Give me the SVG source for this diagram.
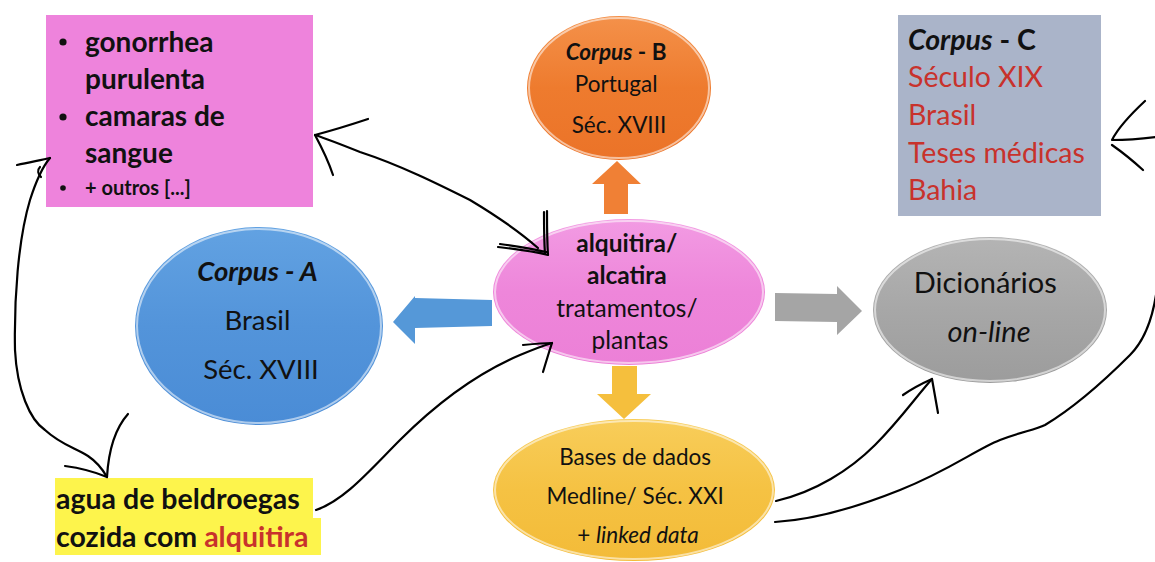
<svg xmlns="http://www.w3.org/2000/svg" width="1155" height="562" viewBox="0 0 1155 562">
  <defs>
    <linearGradient id="gOrange" x1="0" y1="0" x2="0" y2="1">
      <stop offset="0" stop-color="#f4914a"/>
      <stop offset="0.5" stop-color="#ee7b2e"/>
      <stop offset="1" stop-color="#eb7328"/>
    </linearGradient>
    <linearGradient id="gBlue" x1="0" y1="0" x2="0" y2="1">
      <stop offset="0" stop-color="#62a2e2"/>
      <stop offset="0.5" stop-color="#5394da"/>
      <stop offset="1" stop-color="#4a8cd6"/>
    </linearGradient>
    <linearGradient id="gPink" x1="0" y1="0" x2="0" y2="1">
      <stop offset="0" stop-color="#f29be3"/>
      <stop offset="0.5" stop-color="#ee86da"/>
      <stop offset="1" stop-color="#ec80d7"/>
    </linearGradient>
    <linearGradient id="gGray" x1="0" y1="0" x2="0" y2="1">
      <stop offset="0" stop-color="#b4b4b4"/>
      <stop offset="0.5" stop-color="#a7a7a7"/>
      <stop offset="1" stop-color="#9c9c9c"/>
    </linearGradient>
    <linearGradient id="gYellow" x1="0" y1="0" x2="0" y2="1">
      <stop offset="0" stop-color="#f8cd5a"/>
      <stop offset="0.5" stop-color="#f5c243"/>
      <stop offset="1" stop-color="#f3bb38"/>
    </linearGradient>
    <style>
      .t { font-family: Lato, "Liberation Sans", sans-serif; fill: #111; }
      .b { font-weight: bold; }
      .i { font-style: italic; }
      .red { fill: #c8322c; }
      .rim { fill: none; stroke: #ffffff; stroke-opacity: 0.55; stroke-width: 2; }
      .ink { fill: none; stroke: #000; stroke-width: 2.2; stroke-linecap: round; stroke-linejoin: round; }
    </style>
  </defs>

  <rect width="1155" height="562" fill="#ffffff"/>

  <!-- block arrows from the central node -->
  <g id="block-arrows">
    <polygon points="604,214 628,214 628,184 641,184 617,161 592,184 604,184" fill="#f08035"/>
    <polygon points="492,300 415,298 415,296 393,322 415,344 415,328 492,326" fill="#5598d8"/>
    <polygon points="775,293 837,294 837,286 862,311 837,335 837,322 775,321" fill="#a5a5a5"/>
    <polygon points="612,366 637,366 637,394 651,394 624,419 597,394 612,394" fill="#f5bf3d"/>
  </g>

  <!-- symptom list -->
  <g id="node-symptoms">
    <rect x="46" y="15" width="267" height="192" fill="#ee83dc"/>
    <g fill="#111">
      <circle cx="63" cy="42" r="3.6"/>
      <circle cx="63" cy="117" r="3.6"/>
      <circle cx="63" cy="188" r="2.8"/>
    </g>
    <text class="t b" font-size="28">
      <tspan x="85" y="52">gonorrhea</tspan>
      <tspan x="85" y="89">purulenta</tspan>
      <tspan x="85" y="126">camaras de</tspan>
      <tspan x="85" y="163">sangue</tspan>
    </text>
    <text class="t b" font-size="20" x="85" y="195">+ outros [...]</text>
  </g>

  <!-- Corpus B -->
  <g id="node-corpus-b">
    <ellipse cx="619" cy="88" rx="92" ry="72" fill="url(#gOrange)"/>
    <ellipse cx="619" cy="88" rx="90" ry="70" class="rim"/>
    <text class="t" font-size="22.5" text-anchor="middle">
      <tspan x="619" y="60"><tspan class="b i">Corpus</tspan><tspan class="b"> - B</tspan></tspan>
      <tspan x="619" y="92">Portugal</tspan>
      <tspan x="619" y="133">Séc. XVIII</tspan>
    </text>
  </g>

  <!-- Corpus C -->
  <g id="node-corpus-c">
    <rect x="898" y="15" width="203" height="201" fill="#aab4c9"/>
    <text class="t" font-size="28.5">
      <tspan x="908" y="50"><tspan class="b i">Corpus</tspan><tspan class="b"> - C</tspan></tspan>
      <tspan class="red" x="908" y="87">Século XIX</tspan>
      <tspan class="red" x="908" y="125">Brasil</tspan>
      <tspan class="red" x="908" y="163">Teses médicas</tspan>
      <tspan class="red" x="908" y="200">Bahia</tspan>
    </text>
  </g>

  <!-- Corpus A -->
  <g id="node-corpus-a">
    <ellipse cx="259" cy="326" rx="124" ry="99" fill="url(#gBlue)"/>
    <ellipse cx="259" cy="326" rx="122" ry="97" class="rim"/>
    <text class="t" font-size="27.5" text-anchor="middle">
      <tspan x="261" y="281"><tspan class="b i">Corpus - A</tspan></tspan>
      <tspan x="261" y="330">Brasil</tspan>
      <tspan x="261" y="379">Séc. XVIII</tspan>
    </text>
  </g>

  <!-- central term -->
  <g id="node-alquitira">
    <ellipse cx="629" cy="292" rx="136" ry="73" fill="url(#gPink)"/>
    <ellipse cx="629" cy="292" rx="134" ry="71" class="rim"/>
    <text class="t" font-size="24.5" text-anchor="middle">
      <tspan class="b" x="630" y="252">alquitira/</tspan>
      <tspan class="b" x="630" y="284">alcatira</tspan>
      <tspan x="630" y="317">tratamentos/</tspan>
      <tspan x="630" y="349">plantas</tspan>
    </text>
  </g>

  <!-- online dictionaries -->
  <g id="node-dicionarios">
    <ellipse cx="990" cy="310" rx="117" ry="73" fill="url(#gGray)"/>
    <ellipse cx="990" cy="310" rx="115" ry="71" class="rim"/>
    <text class="t" font-size="29" text-anchor="middle">
      <tspan x="989" y="293">Dicionários</tspan>
      <tspan class="i" x="989" y="342">on-line</tspan>
    </text>
  </g>

  <!-- databases -->
  <g id="node-bases">
    <ellipse cx="634" cy="490" rx="141" ry="71" fill="url(#gYellow)"/>
    <ellipse cx="634" cy="490" rx="139" ry="69" class="rim"/>
    <text class="t" font-size="22.5" text-anchor="middle">
      <tspan x="638" y="465">Bases de dados</tspan>
      <tspan x="638" y="504">Medline/ Séc. XXI</tspan>
      <tspan x="638" y="543">+ <tspan class="i">linked data</tspan></tspan>
    </text>
  </g>

  <!-- highlighted example -->
  <g id="node-agua">
    <rect x="55" y="478" width="258" height="40" fill="#fdf44c"/>
    <rect x="55" y="518" width="266" height="37" fill="#fdf44c"/>
    <text class="t b" font-size="28.5">
      <tspan x="56" y="509">agua de beldroegas</tspan>
      <tspan x="56" y="547">cozida com <tspan class="red">alquitira</tspan></tspan>
    </text>
  </g>

  <!-- hand-drawn connectors -->
  <g id="connectors">
    <!-- symptoms <-> agua de beldroegas -->
    <path class="ink" d="M50,158 C44,165 38,175 30,200 C18,240 14,300 15,350 C17,390 30,420 45,430 C60,444 75,448 88,456 C97,462 103,470 107,477"/>
    <path class="ink" d="M17,165 C30,162 42,160 50,158 M40,167 C37,170 38,174 41,177"/>
    <path class="ink" d="M65,466 C80,468 95,472 107,477 C108,460 112,432 128,414"/>
    <!-- symptoms <-> central term -->
    <path class="ink" d="M315,135 C330,140 345,146 360,152 C400,165 440,185 470,200 C500,218 520,232 538,248"/>
    <path class="ink" d="M368,119 C350,125 330,131 315,135 C322,148 328,160 333,175"/>
    <path class="ink" d="M498,247 C515,249 532,251 548,255 C547,240 547,225 547,211 M544,212 C544,225 544,240 545,254 M500,244 C515,246 530,248 546,252"/>
    <!-- agua -> central term -->
    <path class="ink" d="M316,510 C345,500 370,470 400,440 C440,400 480,372 520,355 C532,350 542,346 552,343"/>
    <path class="ink" d="M523,345 C533,344 543,343 552,343 C549,352 546,362 543,372"/>
    <!-- bases -> dicionarios -->
    <path class="ink" d="M776,501 C815,492 850,470 875,445 C900,420 915,398 932,379"/>
    <path class="ink" d="M903,395 C913,388 923,383 932,379 C934,390 936,402 938,413"/>
    <!-- bases -> Corpus C (runs past the right edge) -->
    <path class="ink" d="M775,522 C810,520 850,510 900,490 C950,470 975,450 1000,440 C1020,432 1035,430 1045,425 C1070,410 1100,385 1130,355 C1145,340 1152,320 1156,295"/>
    <path class="ink" d="M1156,137 C1140,139 1125,140 1112,140 C1118,128 1130,115 1145,101 M1112,145 C1122,152 1132,160 1143,170"/>
  </g>
</svg>
